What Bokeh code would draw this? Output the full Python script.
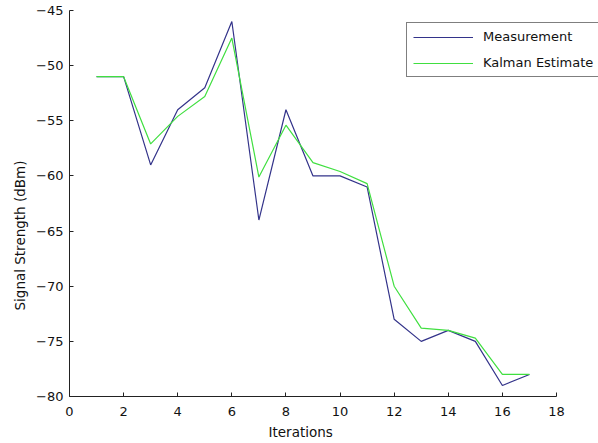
from bokeh.plotting import figure
from bokeh.models import Legend, LegendItem, FixedTicker, Range1d, Title
from bokeh.embed import file_html
from bokeh.resources import INLINE

iterations = list(range(1, 18))
measurement = [-51, -51, -59, -54, -52, -46, -64, -54, -60, -60, -61, -73, -75, -74, -75, -79, -78]
kalman = [-51, -51, -57.1, -54.6, -52.8, -47.5, -60.1, -55.4, -58.8, -59.6, -60.7, -70.0, -73.8, -74.0, -74.7, -78.0, -78.0]
x_ticks = list(range(0, 19, 2))
y_ticks = list(range(-80, -44, 5))
x_label = "Iterations"
y_label = "Signal Strength (dBm)"

W, H = 598, 443
left_b = 69
frame_w = W - left_b
x_end = 18 * frame_w / 487.0

p = figure(width=W, height=H, output_backend="svg", toolbar_location=None,
           x_range=Range1d(0, x_end), y_range=Range1d(-80, -45),
           min_border_left=left_b, min_border_right=0, min_border_top=10, min_border_bottom=47)
p.outline_line_color = None
p.grid.visible = False
p.background_fill_color = "white"

r1 = p.line(iterations, measurement, line_color="#33338a", line_width=1.2)
r2 = p.line(iterations, kalman, line_color="#40df40", line_width=1.2)

font = "DejaVu Sans"
for ax in (p.xaxis[0], p.yaxis[0]):
    ax.axis_line_color = "#222222"
    ax.major_tick_line_color = "#222222"
    ax.major_tick_in = 4
    ax.major_tick_out = 0
    ax.minor_tick_line_color = None
    ax.major_label_text_font = font
    ax.major_label_text_font_size = "13px"
    ax.major_label_text_color = "#111111"

p.xaxis.ticker = FixedTicker(ticks=x_ticks)
p.xaxis.bounds = (0, 18)
p.yaxis.ticker = FixedTicker(ticks=y_ticks)
p.xaxis.major_label_standoff = 10
p.yaxis.major_label_standoff = 6

xt = Title(text=x_label, align="left", offset=199, standoff=6,
           text_font=font, text_font_size="13.5px", text_font_style="normal", text_color="#111111")
yt = Title(text=y_label, align="left", offset=86, standoff=11,
           text_font=font, text_font_size="13.5px", text_font_style="normal", text_color="#111111")
p.add_layout(xt, "below")
p.add_layout(yt, "left")

legend = Legend(items=[LegendItem(label="Measurement", renderers=[r1]),
                       LegendItem(label="Kalman Estimate", renderers=[r2])],
                location=(337, 319))
legend.border_line_color = "black"
legend.border_line_width = 1
legend.background_fill_alpha = 1
legend.label_text_font = font
legend.label_text_font_size = "13px"
legend.label_text_color = "#111111"
legend.glyph_width = 60
legend.label_standoff = 10
legend.padding = 6
legend.margin = 0
legend.spacing = 11
legend.label_height = 12
legend.glyph_height = 12
p.add_layout(legend)

open("out.html", "w").write(file_html(p, INLINE))
